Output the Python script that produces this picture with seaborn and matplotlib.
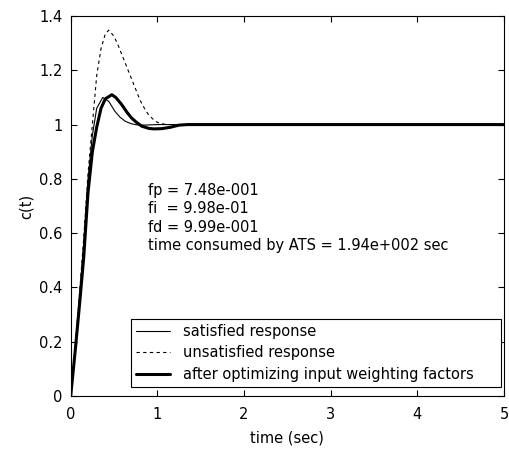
import matplotlib
matplotlib.use("Agg")
import matplotlib.pyplot as plt
import seaborn as sns
import pandas as pd

# ---- data ----
t_sat = [0, 0.05, 0.10, 0.15, 0.20, 0.25, 0.30, 0.37, 0.44, 0.51, 0.57, 0.63, 0.70, 0.76, 0.85, 1.0, 5.0]
c_sat = [0, 0.17, 0.36, 0.56, 0.80, 0.96, 1.06, 1.10, 1.085, 1.049, 1.027, 1.012, 1.003, 0.999, 0.998, 1.0, 1.0]

t_unsat = [0, 0.05, 0.10, 0.15, 0.20, 0.25, 0.30, 0.35, 0.40, 0.44, 0.50, 0.55, 0.60, 0.65, 0.70,
           0.75, 0.80, 0.85, 0.90, 0.95, 1.0, 1.1, 5.0]
c_unsat = [0, 0.17, 0.37, 0.58, 0.82, 1.0, 1.18, 1.28, 1.335, 1.348, 1.325, 1.29, 1.25, 1.21, 1.17,
           1.13, 1.09, 1.06, 1.035, 1.02, 1.008, 1.0, 1.0]

t_opt = [0, 0.05, 0.10, 0.15, 0.20, 0.25, 0.30, 0.35, 0.40, 0.475, 0.52, 0.59, 0.65, 0.70, 0.76,
         0.82, 0.90, 0.96, 1.05, 1.15, 1.25, 1.35, 5.0]
c_opt = [0, 0.16, 0.33, 0.51, 0.75, 0.90, 0.99, 1.06, 1.095, 1.11, 1.10, 1.073, 1.045, 1.025, 1.008,
         0.994, 0.986, 0.984, 0.985, 0.99, 0.998, 1.0, 1.0]

labels = ["satisfied response", "unsatisfied response", "after optimizing input weighting factors"]
info_lines = ["fp = 7.48e-001", "fi  = 9.98e-01", "fd = 9.99e-001",
              "time consumed by ATS = 1.94e+002 sec"]
x_ticks = [0, 1, 2, 3, 4, 5]
y_ticks = [0, 0.2, 0.4, 0.6, 0.8, 1.0, 1.2, 1.4]
y_tick_labels = ["0", "0.2", "0.4", "0.6", "0.8", "1", "1.2", "1.4"]

FS = 10.5
sns.set_theme(style="white")
plt.rcParams["font.family"] = ["DejaVu Sans"]
plt.rcParams.update({
    "font.size": FS,
    "text.color": "black",
    "axes.labelcolor": "black",
    "xtick.color": "black",
    "ytick.color": "black",
    "legend.labelcolor": "black",
})

fig = plt.figure(figsize=(5.09, 4.49), dpi=100)
ax = fig.add_axes([70.7 / 509, 53 / 449, 433.3 / 509, 380 / 449])

sns.lineplot(x=t_sat, y=c_sat, ax=ax, color="black", linewidth=0.8, sort=False,
             label=labels[0])
sns.lineplot(x=t_unsat, y=c_unsat, ax=ax, color="black", linewidth=0.8, sort=False,
             linestyle=(0, (3, 3)), label=labels[1])
sns.lineplot(x=t_opt, y=c_opt, ax=ax, color="black", linewidth=2.2, sort=False,
             label=labels[2])

ax.set_xlim(0, 5)
ax.set_ylim(0, 1.4)
ax.set_xticks(x_ticks)
ax.set_xticklabels([str(v) for v in x_ticks])
ax.set_yticks(y_ticks)
ax.set_yticklabels(y_tick_labels)
ax.tick_params(direction="in", length=4, width=0.8, color="black", labelsize=FS,
               top=True, right=True, bottom=True, left=True, labelcolor="black")
ax.tick_params(axis="x", pad=8)
ax.tick_params(axis="y", pad=6)
for s in ax.spines.values():
    s.set_visible(True)
    s.set_color("black")
    s.set_linewidth(0.8)

ax.set_xlabel("time (sec)", fontsize=FS, color="black", labelpad=6)
ax.set_ylabel("c(t)", fontsize=FS, color="black", labelpad=4)

y0 = 0.757
for i, line in enumerate(info_lines):
    ax.text(0.89, y0 - i * 0.068, line, fontsize=FS, color="black", va="center", ha="left")

leg = ax.legend(loc="lower left", bbox_to_anchor=(0.139, 0.024, 0.854, 0.186), mode="expand",
                borderaxespad=0, fancybox=False, frameon=True, edgecolor="black",
                fontsize=FS, handlelength=2.3, handletextpad=0.9, labelspacing=0.45,
                borderpad=0.35)
leg.get_frame().set_linewidth(0.8)
leg.get_frame().set_alpha(1)
for txt in leg.get_texts():
    txt.set_color("black")

fig.savefig("out.png", dpi=100)
